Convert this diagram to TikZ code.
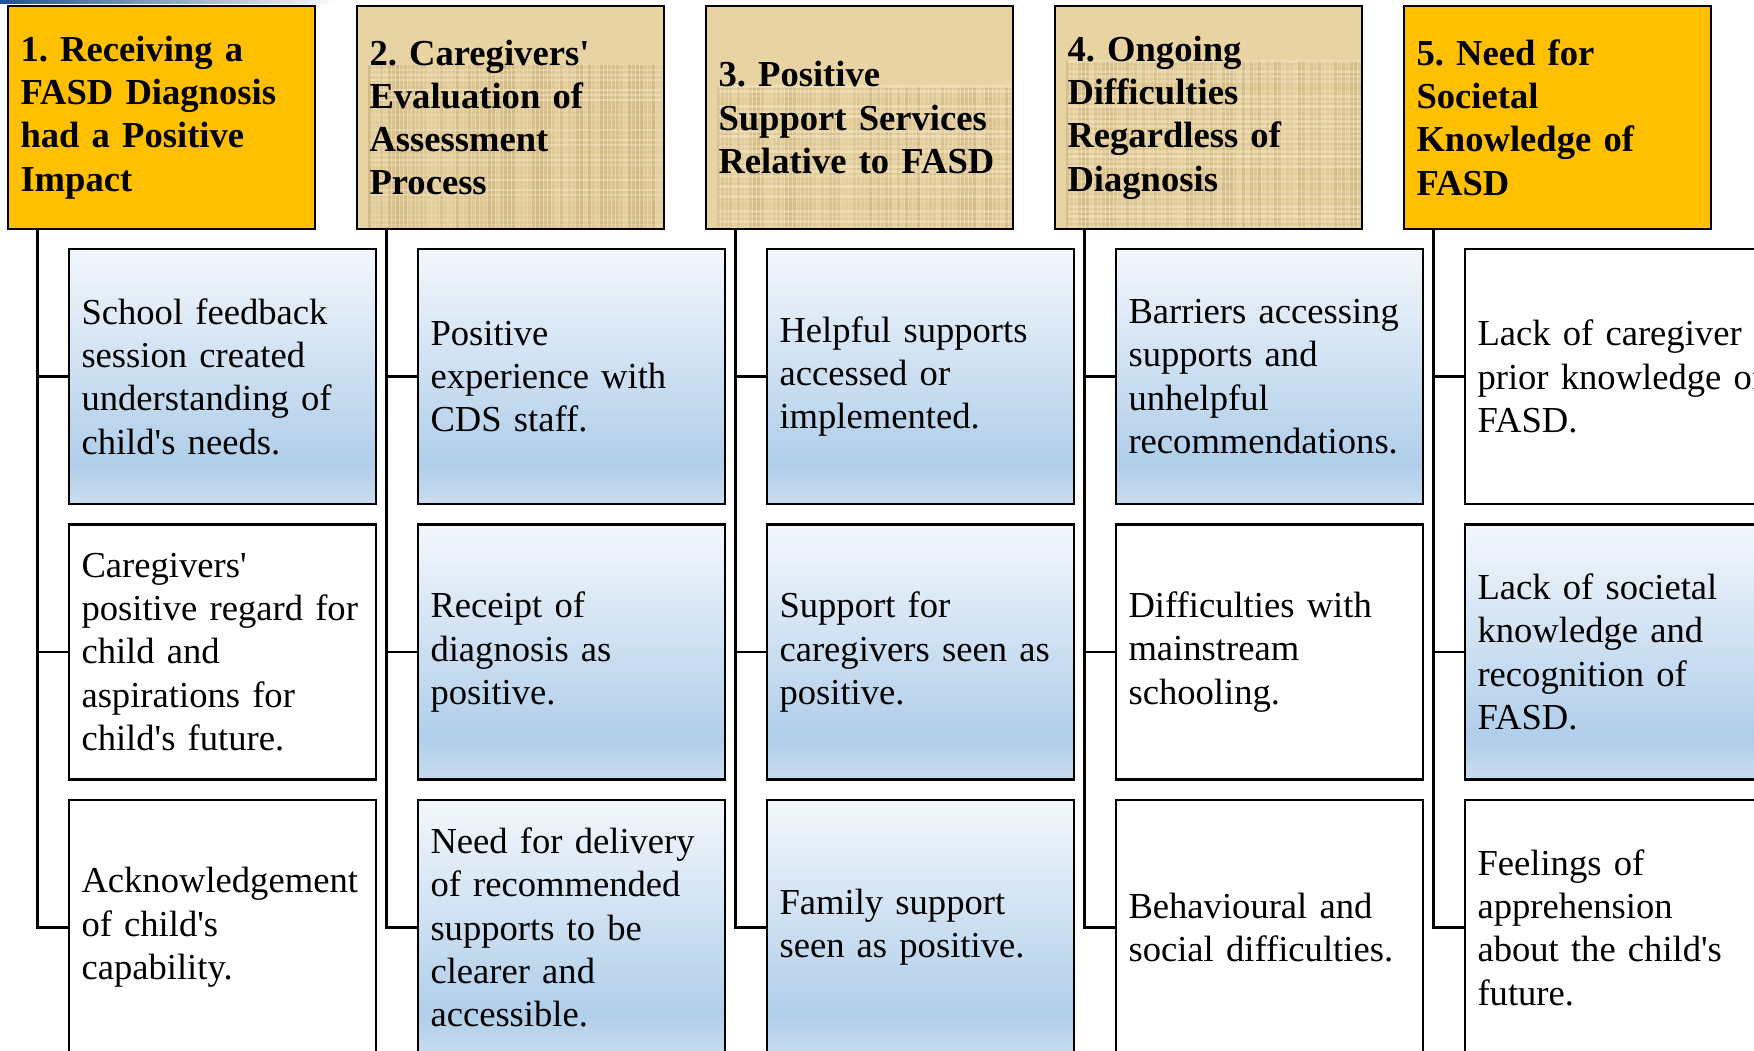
\documentclass[tikz,border=0pt]{standalone}
\usepackage{fontspec}
\setmainfont{Liberation Serif}
\usetikzlibrary{arrows}

\definecolor{gold}{RGB}{255,192,0}
\definecolor{parch}{RGB}{232,211,163}
\definecolor{parchdark}{RGB}{175,145,90}
\definecolor{parchlight}{RGB}{252,242,214}
\definecolor{bluetop}{RGB}{243,247,252}
\definecolor{bluemid}{RGB}{176,206,234}
\definecolor{bluebot}{RGB}{200,220,240}
\definecolor{slideblue}{RGB}{31,78,150}

\newcommand{\apos}{\textquotesingle}

\pgfdeclareverticalshading{boxblue}{100bp}{color(0bp)=(bluebot); color(25bp)=(bluebot);
  color(33bp)=(bluemid); color(75bp)=(bluetop); color(100bp)=(bluetop)}
\pgfmathsetseed{7}

\tikzset{
  header/.style={draw, line width=1.4pt, minimum width=153.5pt, minimum height=111.5pt,
    text width=141pt, inner xsep=6.25pt, inner ysep=7pt, align=left, anchor=center,
    font=\fontsize{18.3pt}{21.65pt}\selectfont\bfseries\frenchspacing},
  goldheader/.style={header, fill=gold},
  parchheader/.style={header, fill=parch, path picture={
    \begin{scope}[shift={(path picture bounding box.north west)}]
      \foreach \i in {0,4,...,310} {
        \pgfmathsetmacro{\op}{0.05+0.35*rnd}
        \draw[parchdark, line width=1.2pt, opacity=\op] (\i,0) -- (\i,230);
      }
      \foreach \j in {0,5,...,230} {
        \pgfmathsetmacro{\op}{0.05+0.4*rnd}
        \draw[parchlight, line width=1.4pt, opacity=\op] (0,\j) -- (310,\j);
      }
    \end{scope}}},
  item/.style={draw, line width=1.3pt, minimum width=153.5pt, minimum height=127.5pt,
    text width=141pt, inner xsep=6.25pt, inner ysep=7pt, align=left, anchor=center, fill=white,
    font=\fontsize{18.3pt}{21.65pt}\selectfont\frenchspacing},
  blueitem/.style={item, shade, shading=boxblue},
  link/.style={line width=1.3pt}
}

\begin{document}
\begin{tikzpicture}[x=0.5pt, y=-0.5pt]
    \useasboundingbox (0,0) rectangle (1754,1050);
    \clip (0,0) rectangle (1754,1050);
    \shade[left color=slideblue, right color=white] (0,0) rectangle (340,3);

    % theme headers
    \node (h1) [goldheader] at (161.5, 117.5) {1. Receiving a\\FASD Diagnosis\\had a Positive\\Impact};
    \node (h2) [parchheader] at (510.5, 117.5) {2. Caregivers\apos\\Evaluation of\\Assessment\\Process};
    \node (h3) [parchheader] at (859.5, 117.5) {3. Positive\\Support Services\\Relative to FASD};
    \node (h4) [parchheader] at (1208.5, 117.5) {4. Ongoing\\Difficulties\\Regardless of\\Diagnosis};
    \node (h5) [goldheader] at (1557.5, 117.5) {5. Need for\\Societal\\Knowledge of\\FASD};

    % subthemes
    \node (a1) [blueitem] at (222.5, 376.5) {School feedback\\session created\\understanding of\\child\apos s needs.};
    \node (a2) [item] at (222.5, 652) {Caregivers\apos\\positive regard for\\child and\\aspirations for\\child\apos s future.};
    \node (a3) [item] at (222.5, 927.5) {Acknowledgement\\of child\apos s\\capability.};

    \node (b1) [blueitem] at (571.5, 376.5) {Positive\\experience with\\CDS staff.};
    \node (b2) [blueitem] at (571.5, 652) {Receipt of\\diagnosis as\\positive.};
    \node (b3) [blueitem] at (571.5, 927.5) {Need for delivery\\of recommended\\supports to be\\clearer and\\accessible.};

    \node (c1) [blueitem] at (920.5, 376.5) {Helpful supports\\accessed or\\implemented.};
    \node (c2) [blueitem] at (920.5, 652) {Support for\\caregivers seen as\\positive.};
    \node (c3) [blueitem] at (920.5, 927.5) {Family support\\seen as positive.};

    \node (d1) [blueitem] at (1269.5, 376.5) {Barriers accessing\\supports and\\unhelpful\\recommendations.};
    \node (d2) [item] at (1269.5, 652) {Difficulties with\\mainstream\\schooling.};
    \node (d3) [item] at (1269.5, 927.5) {Behavioural and\\social difficulties.};

    \node (e1) [item] at (1618.5, 376.5) {Lack of caregiver\\\mbox{prior knowledge of}\\FASD.};
    \node (e2) [blueitem] at (1618.5, 652) {Lack of societal\\knowledge and\\recognition of\\FASD.};
    \node (e3) [item] at (1618.5, 927.5) {Feelings of\\apprehension\\about the child\apos s\\future.};

    % spines
    \coordinate (s1) at ([xshift=15.5pt]h1.south west);
    \coordinate (s2) at ([xshift=15.5pt]h2.south west);
    \coordinate (s3) at ([xshift=15.5pt]h3.south west);
    \coordinate (s4) at ([xshift=15.5pt]h4.south west);
    \coordinate (s5) at ([xshift=15.5pt]h5.south west);
    \draw[link] (s1) |- (a3.west);
    \draw[link] (s1 |- a1.west) -- (a1.west);
    \draw[link] (s1 |- a2.west) -- (a2.west);
    \draw[link] (s2) |- (b3.west);
    \draw[link] (s2 |- b1.west) -- (b1.west);
    \draw[link] (s2 |- b2.west) -- (b2.west);
    \draw[link] (s3) |- (c3.west);
    \draw[link] (s3 |- c1.west) -- (c1.west);
    \draw[link] (s3 |- c2.west) -- (c2.west);
    \draw[link] (s4) |- (d3.west);
    \draw[link] (s4 |- d1.west) -- (d1.west);
    \draw[link] (s4 |- d2.west) -- (d2.west);
    \draw[link] (s5) |- (e3.west);
    \draw[link] (s5 |- e1.west) -- (e1.west);
    \draw[link] (s5 |- e2.west) -- (e2.west);
\end{tikzpicture}
\end{document}
